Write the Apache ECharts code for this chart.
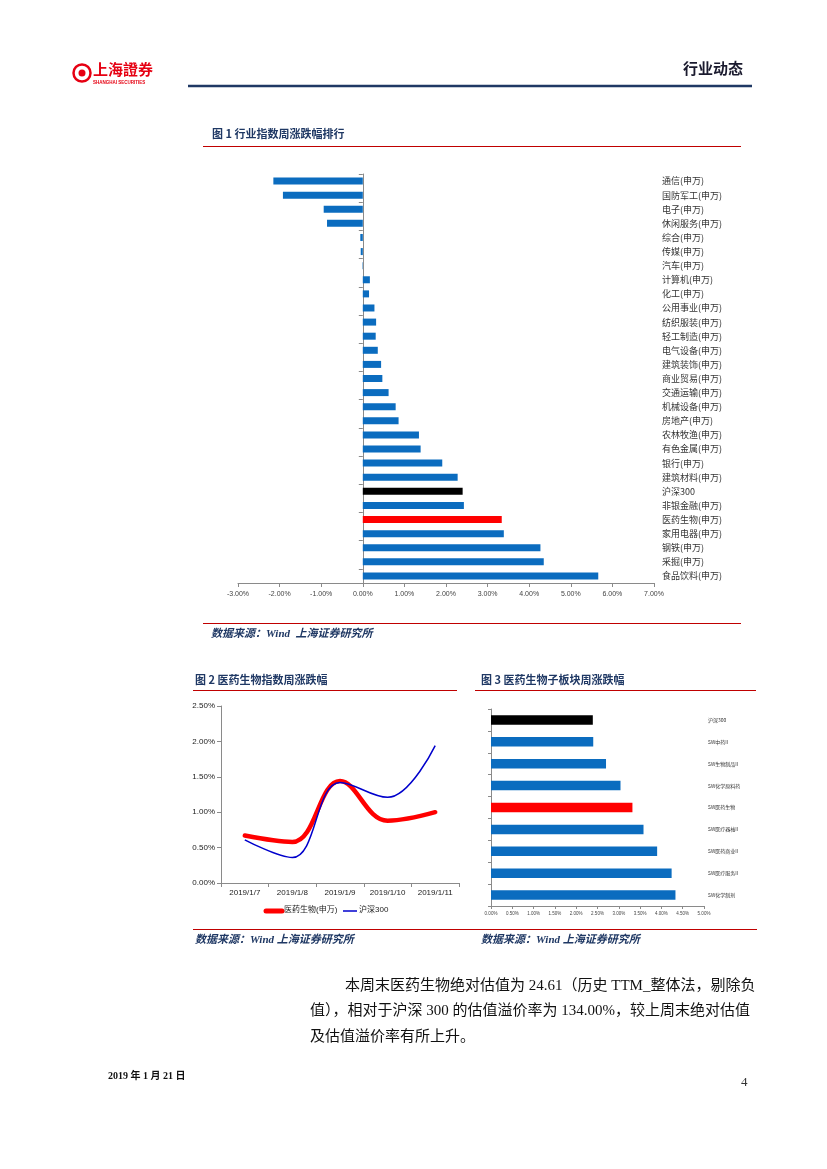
<!DOCTYPE html>
<html>
<head>
<meta charset="utf-8">
<script src="https://cdn.jsdelivr.net/npm/echarts@6/dist/echarts.min.js"></script>
<style>
html,body{margin:0;padding:0;background:#fff;}
#c{width:827px;height:1169px;}
</style>
</head>
<body>
<div id="c"></div>
<script>
// ---------- data ----------
const fig1Categories = ['通信(申万)','国防军工(申万)','电子(申万)','休闲服务(申万)','综合(申万)','传媒(申万)','汽车(申万)','计算机(申万)','化工(申万)','公用事业(申万)','纺织服装(申万)','轻工制造(申万)','电气设备(申万)','建筑装饰(申万)','商业贸易(申万)','交通运输(申万)','机械设备(申万)','房地产(申万)','农林牧渔(申万)','有色金属(申万)','银行(申万)','建筑材料(申万)','沪深300','非银金融(申万)','医药生物(申万)','家用电器(申万)','钢铁(申万)','采掘(申万)','食品饮料(申万)'];
const fig1Values = [-2.15,-1.92,-0.94,-0.86,-0.06,-0.05,-0.01,0.17,0.15,0.28,0.32,0.31,0.36,0.44,0.47,0.62,0.79,0.86,1.35,1.39,1.91,2.28,2.40,2.43,3.34,3.39,4.27,4.35,5.66];

const fig2Dates = ['2019/1/7','2019/1/8','2019/1/9','2019/1/10','2019/1/11'];
const fig2Pharma = [0.67,0.58,1.44,0.88,1.00];
const fig2HS300 = [0.61,0.36,1.42,1.21,1.94];
const fig2Names = ['医药生物(申万)','沪深300'];

const fig3Categories = ['沪深300','SW中药II','SW生物制品II','SW化学原料药','SW医药生物','SW医疗器械II','SW医药商业II','SW医疗服务II','SW化学制剂'];
const fig3Values = [2.39,2.40,2.70,3.04,3.32,3.58,3.90,4.24,4.33];

// ---------- styles ----------
const BLUE = '#0b6cbf', RED = '#ff0000', BLACK = '#000000', DBLUE = '#0000cc';
const NAVY = '#1f3864', LINERED = '#c00000';
const AXIS = '#8a8a8a';
const CJK = '"Noto Sans CJK SC", sans-serif';
const SERIF = '"Liberation Serif", "Noto Sans CJK SC", serif';
const SANS = '"Liberation Sans", "Noto Sans CJK SC", sans-serif';

function barColor(name){
  if (name === '沪深300') return BLACK;
  if (name === '医药生物(申万)' || name === 'SW医药生物') return RED;
  return BLUE;
}
const pct = v => v.toFixed(2) + '%';

function txt(x, y, text, style){
  return {type:'text', left:x, top:y, silent:true,
    style:Object.assign({text:text, fill:'#000', font:'12px ' + CJK}, style)};
}
function hline(x1, x2, y, color, w, cap){
  return {type:'line', silent:true, shape:{x1:x1, y1:y, x2:x2, y2:y},
    style:{stroke:color, lineWidth:w, lineCap:cap || 'butt'}};
}

const chart = echarts.init(document.getElementById('c'), null, {renderer:'canvas'});

const graphics = [
  // header
  {type:'circle', silent:true, shape:{cx:82, cy:73, r:8.5}, style:{fill:'none', stroke:'#e60012', lineWidth:2.5}},
  {type:'circle', silent:true, shape:{cx:82, cy:73, r:3.5}, style:{fill:'#e60012'}},
  txt(93, 62, '上海證券', {fill:'#e60012', font:'bold 15px ' + CJK}),
  txt(93, 80, 'SHANGHAI SECURITIES', {fill:'#e60012', font:'bold 4.5px "Liberation Sans", sans-serif'}),
  txt(683, 61, '行业动态', {fill:'#1a1a2e', font:'bold 15px ' + CJK}),
  hline(188, 752, 86, NAVY, 2.5),
  // figure 1
  txt(212, 128, '图 1 行业指数周涨跌幅排行', {fill:NAVY, font:'bold 11px ' + CJK}),
  hline(203, 741, 146.5, LINERED, 1),
  hline(203, 741, 623.5, LINERED, 1),
  txt(211, 629, '数据来源：Wind  上海证券研究所', {fill:NAVY, font:'italic bold 11px ' + SERIF}),
  // figure 2 & 3
  txt(195, 674, '图 2 医药生物指数周涨跌幅', {fill:NAVY, font:'bold 11px ' + CJK}),
  hline(193, 457, 690.5, LINERED, 1),
  txt(481, 674, '图 3 医药生物子板块周涨跌幅', {fill:NAVY, font:'bold 11px ' + CJK}),
  hline(475, 756, 690.5, LINERED, 1),
  hline(193, 757, 929.5, LINERED, 1),
  txt(195, 935, '数据来源：Wind 上海证券研究所', {fill:NAVY, font:'italic bold 11px ' + SERIF}),
  txt(481, 935, '数据来源：Wind 上海证券研究所', {fill:NAVY, font:'italic bold 11px ' + SERIF}),
  // figure 2 legend (drawn as key)
  hline(266, 282, 911, RED, 5, 'round'),
  txt(284, 906, fig2Names[0], {fill:'#222', font:'8px ' + SANS}),
  hline(343, 357, 911, DBLUE, 1.5),
  txt(359, 906, fig2Names[1], {fill:'#222', font:'8px ' + SANS}),
  // paragraph
  txt(345, 979, '本周末医药生物绝对估值为 24.61（历史 TTM_整体法，剔除负', {fill:'#111', font:'15px ' + SERIF}),
  txt(310, 1004, '值），相对于沪深 300 的估值溢价率为 134.00%，较上周末绝对估值', {fill:'#111', font:'15px ' + SERIF}),
  txt(310, 1030, '及估值溢价率有所上升。', {fill:'#111', font:'15px ' + SERIF}),
  // footer
  txt(108, 1071, '2019 年 1 月 21 日', {fill:'#111', font:'bold 10px ' + SERIF}),
  txt(741, 1076, '4', {fill:'#333', font:'13px ' + SERIF})
];

const option = {
  animation:false,
  backgroundColor:'#fff',
  textStyle:{fontFamily:CJK},
  graphic:graphics,
  grid:[
    {left:238, right:827-654, top:174, bottom:1169-583, containLabel:false},
    {left:221, right:827-459, top:706, bottom:1169-883, containLabel:false},
    {left:491, right:827-704, top:709, bottom:1169-906, containLabel:false}
  ],
  xAxis:[
    {gridIndex:0, type:'value', min:-3, max:7, interval:1,
      splitLine:{show:false},
      axisLine:{show:true, onZero:false, lineStyle:{color:AXIS}},
      axisTick:{show:true, length:4, lineStyle:{color:AXIS}},
      axisLabel:{formatter:pct, fontSize:7, color:'#444', margin:8, fontFamily:'"Liberation Sans", sans-serif'}},
    {gridIndex:1, type:'category', data:fig2Dates, boundaryGap:true,
      axisLine:{show:true, lineStyle:{color:AXIS}},
      axisTick:{show:true, length:4, lineStyle:{color:AXIS}},
      axisLabel:{fontSize:8, color:'#222', margin:6, fontFamily:'"Liberation Sans", sans-serif'}},
    {gridIndex:2, type:'value', min:0, max:5, interval:0.5,
      splitLine:{show:false},
      axisLine:{show:true, lineStyle:{color:AXIS}},
      axisTick:{show:true, length:3, lineStyle:{color:AXIS}},
      axisLabel:{formatter:pct, fontSize:4.5, color:'#444', margin:5, fontFamily:'"Liberation Sans", sans-serif'}}
  ],
  yAxis:[
    {gridIndex:0, type:'category', data:fig1Categories, inverse:true,
      axisLine:{show:true, onZero:true, lineStyle:{color:AXIS}},
      axisTick:{show:true, length:4, lineStyle:{color:AXIS}},
      axisLabel:{show:false}},
    {gridIndex:0, type:'category', data:fig1Categories, inverse:true, position:'right',
      axisLine:{show:false}, axisTick:{show:false},
      axisLabel:{show:true, fontSize:9, color:'#333', margin:8, fontFamily:CJK}},
    {gridIndex:1, type:'value', min:0, max:2.5, interval:0.5,
      splitLine:{show:false},
      axisLine:{show:true, lineStyle:{color:AXIS}},
      axisTick:{show:true, length:4, lineStyle:{color:AXIS}},
      axisLabel:{formatter:pct, fontSize:8, color:'#222', margin:6, fontFamily:'"Liberation Sans", sans-serif'}},
    {gridIndex:2, type:'category', data:fig3Categories, inverse:true,
      axisLine:{show:true, lineStyle:{color:AXIS}},
      axisTick:{show:true, length:3, lineStyle:{color:AXIS}},
      axisLabel:{show:false}},
    {gridIndex:2, type:'category', data:fig3Categories, inverse:true, position:'right',
      axisLine:{show:false}, axisTick:{show:false},
      axisLabel:{show:true, fontSize:5, color:'#333', margin:4, fontFamily:CJK}}
  ],
  series:[
    {type:'bar', xAxisIndex:0, yAxisIndex:0, barWidth:7,
      data:fig1Values.map((v,i)=>({value:v, itemStyle:{color:barColor(fig1Categories[i])}}))},
    {name:fig2Names[0], type:'line', xAxisIndex:1, yAxisIndex:2, data:fig2Pharma,
      smooth:0.4, symbol:'none', lineStyle:{color:RED, width:4.5, cap:'round'}, itemStyle:{color:RED}},
    {name:fig2Names[1], type:'line', xAxisIndex:1, yAxisIndex:2, data:fig2HS300,
      smooth:0.4, symbol:'none', lineStyle:{color:DBLUE, width:1.5}, itemStyle:{color:DBLUE}},
    {type:'bar', xAxisIndex:2, yAxisIndex:3, barWidth:9.5,
      data:fig3Values.map((v,i)=>({value:v, itemStyle:{color:barColor(fig3Categories[i])}}))}
  ]
};
chart.setOption(option);
</script>
</body>
</html>
